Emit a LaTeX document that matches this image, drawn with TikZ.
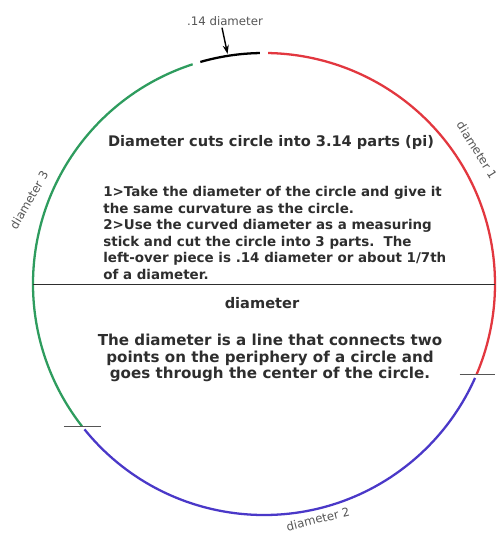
\documentclass[tikz,border=0pt]{standalone}
\usepackage{fontspec}
\setmainfont{DejaVu Sans}
\usepackage{xcolor}
\usepackage{tikz}
\usetikzlibrary{arrows.meta,positioning,calc}
\definecolor{arcred}{HTML}{E2373F}
\definecolor{arcgreen}{HTML}{2E9C5E}
\definecolor{arcblue}{HTML}{4A38C8}
\definecolor{textc}{HTML}{2E2E2E}
\definecolor{greyc}{HTML}{555555}

\begin{document}
\begin{tikzpicture}[font=\small,
  lab/.style={font=\fontsize{6.7}{7}\selectfont,text=greyc,inner sep=1pt},
  body/.style={font=\bfseries\fontsize{8.3}{9.4}\selectfont,text=textc,inner sep=0pt},
  rim/.style={line width=1.3pt},
  tick/.style={draw=greyc,line width=0.8pt},
]
\useasboundingbox (-5.28,-5.06) rectangle (4.70,5.68);

\coordinate (o) at (0,0);
\coordinate (dl) at (180:4.62);
\coordinate (dr) at (0:4.62);
\coordinate (t1) at (-23:4.62);
\coordinate (t3) at (218:4.62);
\coordinate (p14) at (99:4.66);

\draw[rim,arcred] (t1) arc[start angle=-23,end angle=89,radius=4.62];
\draw[rim,black] (91:4.62) arc[start angle=91,end angle=106,radius=4.62];
\draw[rim,arcgreen] (108:4.62) arc[start angle=108,end angle=218,radius=4.62];
\draw[rim,arcblue] (219:4.62) arc[start angle=219,end angle=336,radius=4.62];

\draw[tick] ([xshift=-0.34cm]t1) -- ([xshift=0.36cm]t1);
\draw[tick] ([xshift=-0.36cm]t3) -- ([xshift=0.38cm]t3);
\draw[textc,line width=0.5pt] (dl) -- (dr);

\node[lab] (d14) at (-0.78,5.26) {.14 diameter};
\draw[-{Stealth[length=5pt,width=3.5pt]},line width=0.8pt] (d14.south) ++(-0.06,0) coordinate (a0) (a0) -- (p14);

\node[lab,rotate=-58] (d1) at (4.26,2.68) {diameter 1};
\node[lab,rotate=14] (d2) at (1.08,-4.70) {diameter 2};
\node[lab,rotate=60] (d3) at (-4.70,1.68) {diameter 3};

\node[body] (title) at (0.14,2.84) {Diameter cuts circle into 3.14 parts (pi)};
\node[body,font=\bfseries\fontsize{7.65}{9.4}\selectfont,align=left,anchor=north west] (steps) at (-3.22,1.96)
  {1>Take the diameter of the circle and give it\\
   the same curvature as the circle.\\
   2>Use the curved diameter as a measuring\\
   stick and cut the circle into 3 parts.\ \ The\\
   left-over piece is .14 diameter or about 1/7th\\
   of a diameter.};

\node[body] (dlab) at (-0.04,-0.38) {diameter};
\node[body,font=\bfseries\fontsize{8.6}{9.4}\selectfont,align=center] (defn) at (0.12,-1.48)
  {The diameter is a line that connects two\\
   points on the periphery of a circle and\\
   goes through the center of the circle.};
\end{tikzpicture}
\end{document}
